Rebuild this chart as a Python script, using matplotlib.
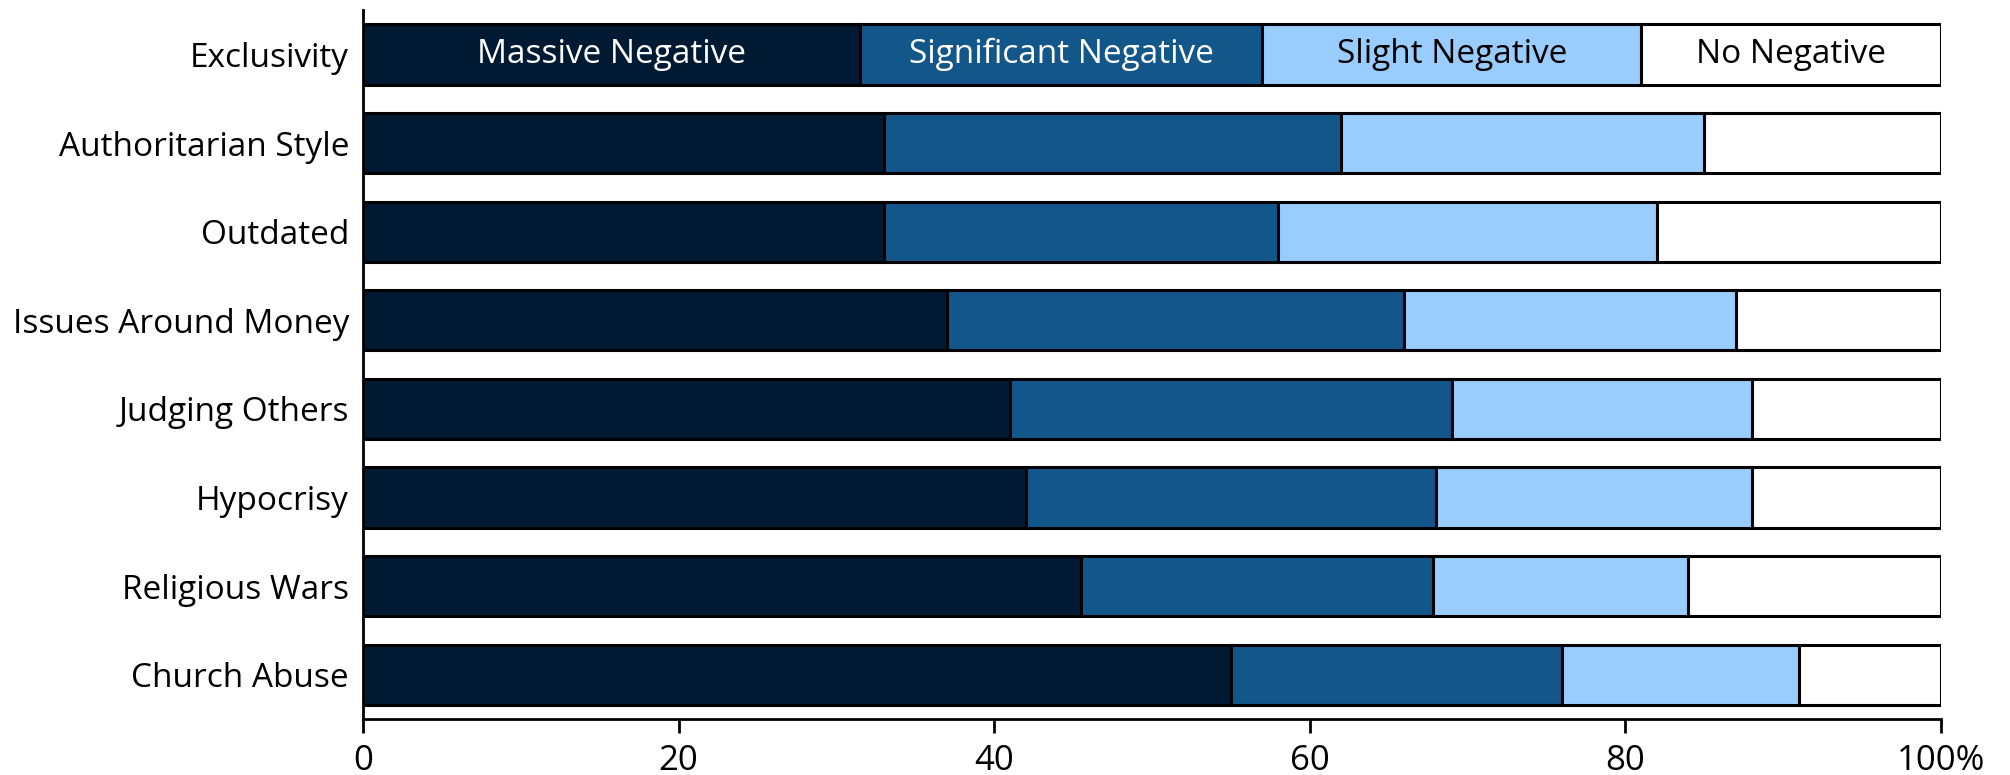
import matplotlib
matplotlib.use("Agg")
import matplotlib.pyplot as plt
import numpy as np

plt.rcParams['font.family'] = ['Open Sans', 'DejaVu Sans']

categories = ["Church Abuse", "Religious Wars", "Hypocrisy", "Judging Others",
              "Issues Around Money", "Outdated", "Authoritarian Style", "Exclusivity"]
massive = [55, 45.5, 42, 41, 37, 33, 33, 31.5]
significant = [21, 22.3, 26, 28, 29, 25, 29, 25.5]
slight = [15, 16.2, 20, 19, 21, 24, 23, 24]
no_neg = [9, 16, 12, 12, 13, 18, 15, 19]
series_names = ["Massive Negative", "Significant Negative", "Slight Negative", "No Negative"]
colors = ["#011a33", "#13568a", "#99ccff", "#ffffff"]
text_colors = ["white", "white", "black", "black"]
xticks = [0, 20, 40, 60, 80, 100]
xticklabels = ["0", "20", "40", "60", "80", "100%"]

fig = plt.figure(figsize=(20.10, 7.75), dpi=100)
ax = fig.add_axes([0.1806, 0.072, 0.785, 0.915])

y = np.arange(len(categories))
left = np.zeros(len(categories))
data = [massive, significant, slight, no_neg]
for vals, col in zip(data, colors):
    ax.barh(y, vals, left=left, height=0.68, color=col, edgecolor="black", linewidth=2.2, zorder=3)
    left = left + np.array(vals)

# in-bar series labels on top bar
top = len(categories) - 1
l = 0
for name, vals, tc in zip(series_names, data, text_colors):
    ax.text(l + vals[top] / 2, y[top], name, ha="center", va="center", color=tc, fontsize=24)
    l += vals[top]

ax.set_xlim(0, 100)
ax.set_ylim(-0.5, 7.5)
ax.set_yticks(y)
ax.set_yticklabels(categories, fontsize=24)
ax.set_xticks(xticks)
ax.set_xticklabels(xticklabels, fontsize=25)
ax.tick_params(axis="y", length=0, pad=10)
ax.tick_params(axis="x", length=10, width=2, direction="out", pad=8)
for s in ["top", "right"]:
    ax.spines[s].set_visible(False)
for s in ["left", "bottom"]:
    ax.spines[s].set_linewidth(2)
    ax.spines[s].set_color("black")

fig.savefig("out.png", dpi=100)
